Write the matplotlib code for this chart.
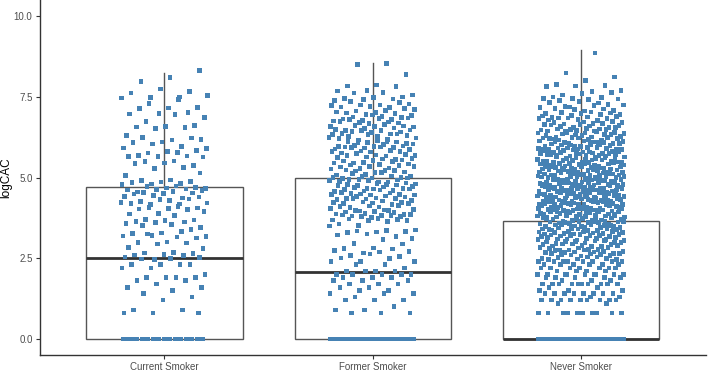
import numpy as np
import matplotlib
matplotlib.use("Agg")
import matplotlib.pyplot as plt

# ---------------- data ----------------
categories = ["Current Smoker", "Former Smoker", "Never Smoker"]

# boxplot statistics per category
box_q1 = [0.0, 0.0, 0.0]
box_median = [2.52, 2.07, 0.0]
box_q3 = [4.71, 4.98, 3.66]
whisker_low = [0.0, 0.0, 0.0]
whisker_high = [8.25, 8.55, 8.96]

# number of points at logCAC == 0
zero_counts = [24, 50, 80]

# point counts per 0.1 level, starting at level 0.1 up to 9.0
current_counts = [
    0, 0, 0, 0, 0, 0, 0, 3, 2,        # 0.1-0.9
    0, 0, 1, 1, 1, 1, 2, 1, 2, 4,     # 1.0-1.9
    1, 0, 2, 4, 0, 5, 4, 2, 2, 1,     # 2.0-2.9
    3, 1, 5, 3, 1, 3, 4, 3, 1, 3,     # 3.0-3.9
    3, 3, 5, 4, 4, 4, 6, 5, 4, 4,     # 4.0-4.9
    0, 2, 0, 2, 3, 2, 2, 3, 4, 2,     # 5.0-5.9
    2, 2, 4, 1, 0, 2, 3, 1, 0, 2,     # 6.0-6.9
    3, 1, 2, 1, 1, 4, 1, 2, 0, 0,     # 7.0-7.9
    1, 1, 0, 1, 0, 0, 0, 0, 0, 0,     # 8.0-8.9
    0,                                # 9.0
]
former_counts = [
    0, 0, 0, 0, 0, 0, 0, 3, 2,
    1, 0, 3, 1, 3, 2, 2, 3, 3, 3,
    5, 4, 1, 2, 3, 2, 3, 4, 3, 1,
    1, 2, 3, 4, 2, 2, 2, 6, 8, 6,
    6, 5, 7, 6, 5, 8, 7, 6, 7, 8,
    7, 5, 6, 6, 5, 6, 5, 6, 6, 7,
    6, 7, 5, 6, 6, 6, 6, 5, 7, 5,
    5, 4, 5, 4, 3, 3, 3, 2, 2, 1,
    0, 0, 1, 0, 0, 2, 0, 0, 0, 0,
    0,
]
never_counts = [
    0, 0, 0, 0, 0, 0, 0, 10, 0,
    0, 2, 9, 2, 8, 3, 2, 10, 3, 5,
    9, 4, 7, 6, 8, 8, 8, 9, 8, 9,
    9, 10, 10, 10, 11, 11, 12, 12, 12, 13,
    13, 13, 14, 14, 14, 15, 15, 14, 15, 14,
    13, 13, 12, 13, 12, 12, 11, 12, 11, 11,
    10, 10, 10, 9, 9, 8, 8, 7, 7, 6,
    6, 5, 5, 4, 4, 3, 3, 2, 2, 2,
    1, 1, 1, 0, 0, 0, 0, 0, 0, 1,
    0,
]
level_step = 0.1


def halton(n, base):
    """Deterministic low-discrepancy sequence used for the jitter layout."""
    out = np.zeros(n)
    for k in range(n):
        f, r, i = 1.0, 0.0, k + 1
        while i > 0:
            f /= base
            r += f * (i % base)
            i //= base
        out[k] = r
    return out


# ---------------- figure ----------------
W, H, DPI = 709, 373, 100
plt.rcParams["font.family"] = ["Liberation Sans", "DejaVu Sans"]
fig = plt.figure(figsize=(W / DPI, H / DPI), dpi=DPI)
ax = fig.add_axes([39.5 / W, 18 / H, (706 - 39.5) / W, 355 / H])

# boxplots from the statistics
stats = []
for i, name in enumerate(categories):
    stats.append(dict(med=box_median[i], q1=box_q1[i], q3=box_q3[i],
                      whislo=whisker_low[i], whishi=whisker_high[i],
                      fliers=[], label=name))
ax.bxp(stats, positions=[1, 2, 3], widths=0.75, showcaps=False,
       showfliers=False, patch_artist=True,
       boxprops=dict(facecolor="white", edgecolor="#555555", linewidth=1.0),
       whiskerprops=dict(color="#555555", linewidth=1.0),
       medianprops=dict(color="#333333", linewidth=2.0),
       zorder=2)

# jittered points
point_color = "#4682b4"
jitter_half = 0.21
msize = 11
for i, counts in enumerate([current_counts, former_counts, never_counts]):
    levels = np.round(np.arange(1, len(counts) + 1) * level_step, 2)
    yl = np.repeat(levels, counts)
    n0 = zero_counts[i]
    # zeros spread across the jitter band
    x0 = (i + 1) + (halton(n0, 2) - 0.5) * 2 * jitter_half
    ax.scatter(x0, np.zeros(n0), s=msize, marker="s", color=point_color,
               edgecolors="none", zorder=3)
    n = len(yl)
    hx = halton(n + 7 * (i + 1), 3)[7 * (i + 1):]
    hy = halton(n + 5 * (i + 1), 5)[5 * (i + 1):]
    xs = (i + 1) + (hx - 0.5) * 2 * jitter_half
    # small vertical jitter only in the continuous upper range
    ys = yl + np.where(yl > 2.45, (hy - 0.5) * level_step, 0.0)
    ax.scatter(xs, ys, s=msize, marker="s", color=point_color,
               edgecolors="none", zorder=3)

# axes styling (theme_classic-like)
ax.set_xlim(0.4, 3.6)
ax.set_ylim(-0.5, 10.5)
ax.set_yticks([0.0, 2.5, 5.0, 7.5, 10.0])
ax.set_yticklabels(["0.0", "2.5", "5.0", "7.5", "10.0"])
ax.set_xticks([1, 2, 3])
ax.set_xticklabels(categories)
for side in ["top", "right"]:
    ax.spines[side].set_visible(False)
for side in ["left", "bottom"]:
    ax.spines[side].set_color("#333333")
    ax.spines[side].set_linewidth(1.0)
ax.tick_params(axis="both", colors="#333333", length=3, width=0.8,
               labelsize=7, labelcolor="#4d4d4d", pad=2)
ax.set_ylabel("logCAC", fontsize=8.5, color="black")
ax.yaxis.set_label_coords(-27.5 / 666.5, 0.5)
ax.set_facecolor("white")

fig.savefig("out.png", dpi=DPI, facecolor="white")
